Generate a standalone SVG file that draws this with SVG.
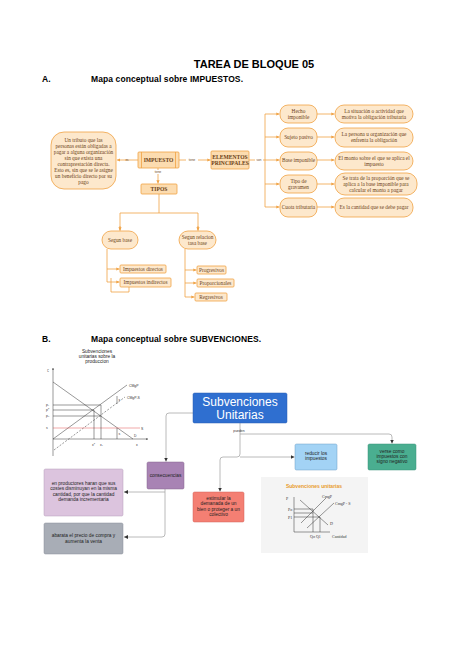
<svg xmlns="http://www.w3.org/2000/svg" width="474" height="670" viewBox="0 0 474 670">
<defs>
<style>
.h{font-family:"Liberation Sans",Arial,sans-serif;font-weight:bold;fill:#000}
.on{fill:#fde8cc;stroke:#f0a244;stroke-width:0.8}
.ob{fill:#fcdcb0;stroke:#f0a244;stroke-width:0.8}
.t{font-family:"Liberation Serif","DejaVu Serif",serif;font-size:5.3px;fill:#6b3f17;text-anchor:middle}
.tb{font-family:"Liberation Serif","DejaVu Serif",serif;font-size:5.6px;font-weight:bold;fill:#6b3f17;text-anchor:middle}
.lb{font-family:"Liberation Sans",Arial,sans-serif;font-size:3px;fill:#6b3f17;text-anchor:middle}
.co{fill:none;stroke:#f0a244;stroke-width:0.8}
.cg{fill:none;stroke:#a8a8a8;stroke-width:0.8}
.g{fill:none;stroke:#333;stroke-width:0.5}
.s{font-family:"Liberation Sans",Arial,sans-serif;font-size:4.8px;fill:#222;text-anchor:middle}
.sm{font-family:"Liberation Sans",Arial,sans-serif;font-size:3.4px;fill:#333}
.gs{font-family:"Liberation Serif","DejaVu Serif",serif;font-size:4px;fill:#333}
</style>
<marker id="ao" viewBox="0 0 6 6" refX="6" refY="3" markerWidth="4" markerHeight="4" orient="auto"><path d="M0,0L6,3L0,6z" fill="#f0a244"/></marker>
<marker id="ag" viewBox="0 0 6 6" refX="6" refY="3" markerWidth="3.5" markerHeight="3.5" orient="auto"><path d="M0,0L6,3L0,6z" fill="#333"/></marker>
<marker id="ak" viewBox="0 0 6 6" refX="6" refY="3" markerWidth="5" markerHeight="5" orient="auto"><path d="M0,0L6,3L0,6z" fill="#333"/></marker>
</defs>
<rect width="474" height="670" fill="#fff"/>

<g id="headings">
<text class="h" x="254" y="68" font-size="11" text-anchor="middle">TAREA DE BLOQUE 05</text>
<text class="h" x="42" y="82" font-size="8.5">A.</text>
<text class="h" x="91" y="82" font-size="8.5" textLength="152">Mapa conceptual sobre IMPUESTOS.</text>
<text class="h" x="42" y="342" font-size="8.5">B.</text>
<text class="h" x="91" y="342" font-size="8.5" textLength="170">Mapa conceptual sobre SUBVENCIONES.</text>
</g>

<g id="connectors-a">
<line class="co" x1="138" y1="160" x2="117" y2="160" marker-end="url(#ao)"/>
<text class="lb" x="127" y="161">es</text>
<line class="co" x1="179" y1="160" x2="210.5" y2="160" marker-end="url(#ao)"/>
<rect x="186" y="158" width="12" height="4" fill="#fff"/>
<text class="lb" x="192" y="161">tiene</text>
<line class="co" x1="158" y1="168" x2="158" y2="183.5" marker-end="url(#ao)"/>
<rect x="152" y="170" width="12" height="4" fill="#fff"/>
<text class="lb" x="158" y="173">tiene</text>
<polyline class="co" points="249,160 265,160"/>
<rect x="255" y="158" width="8" height="4" fill="#fff"/>
<text class="lb" x="259" y="161">son</text>
<line class="co" x1="265" y1="114" x2="265" y2="207"/>
<line class="co" x1="265" y1="114" x2="279.5" y2="114" marker-end="url(#ao)"/>
<line class="co" x1="265" y1="137" x2="279.5" y2="137" marker-end="url(#ao)"/>
<line class="co" x1="265" y1="160" x2="279.5" y2="160" marker-end="url(#ao)"/>
<line class="co" x1="265" y1="184" x2="279.5" y2="184" marker-end="url(#ao)"/>
<line class="co" x1="265" y1="207" x2="279.5" y2="207" marker-end="url(#ao)"/>
<line class="co" x1="317" y1="114" x2="334.5" y2="114" marker-end="url(#ao)"/>
<line class="co" x1="317" y1="137" x2="334.5" y2="137" marker-end="url(#ao)"/>
<line class="co" x1="317" y1="160" x2="334.5" y2="160" marker-end="url(#ao)"/>
<line class="co" x1="317" y1="184" x2="334.5" y2="184" marker-end="url(#ao)"/>
<line class="co" x1="317" y1="207" x2="334.5" y2="207" marker-end="url(#ao)"/>
<polyline class="co" points="159,194 159,213"/>
<polyline class="co" points="120,230.5 120,213 198,213 198,230.5"/>
<path class="co" d="M120,226 L120,230.5" marker-end="url(#ao)"/>
<path class="co" d="M198,226 L198,230.5" marker-end="url(#ao)"/>
<polyline class="co" points="107,249 107,282"/>
<line class="co" x1="107" y1="269" x2="119.5" y2="269" marker-end="url(#ao)"/>
<line class="co" x1="107" y1="282" x2="119.5" y2="282" marker-end="url(#ao)"/>
<polyline class="co" points="111,278 111,292 129,292 129,287"/>
<polyline class="co" points="185,249 185,297"/>
<line class="co" x1="185" y1="270" x2="196.5" y2="270" marker-end="url(#ao)"/>
<line class="co" x1="185" y1="283" x2="196.5" y2="283" marker-end="url(#ao)"/>
<line class="co" x1="185" y1="297" x2="194.5" y2="297" marker-end="url(#ao)"/>
</g>

<g id="n-def">
<rect class="on" x="51" y="132" width="65" height="57" rx="13"/>
<text class="t"><tspan x="83.5" y="142">Un tributo que las</tspan><tspan x="83.5" y="148">personas están obligadas a</tspan><tspan x="83.5" y="154">pagar a alguna organización</tspan><tspan x="83.5" y="160">sin que exista una</tspan><tspan x="83.5" y="166">contraprestación directa.</tspan><tspan x="83.5" y="172">Esto es, sin que se le asigne</tspan><tspan x="83.5" y="178">un beneficio directo por su</tspan><tspan x="83.5" y="184">pago</tspan></text>
</g>
<g id="n-impuesto">
<rect class="ob" x="138" y="152" width="41" height="16" rx="1"/>
<line class="co" x1="141.5" y1="152" x2="141.5" y2="168"/>
<line class="co" x1="175.5" y1="152" x2="175.5" y2="168"/>
<text class="tb" x="158.5" y="162">IMPUESTO</text>
</g>
<g id="n-elementos">
<rect class="ob" x="211" y="151" width="38" height="18" rx="1"/>
<text class="tb" font-size="4.8"><tspan x="230" y="159">ELEMENTOS</tspan><tspan x="230" y="165">PRINCIPALES</tspan></text>
</g>
<g id="n-tipos">
<rect class="ob" x="141" y="184" width="36" height="10" rx="1"/>
<text class="tb" font-size="4.8" x="159" y="190.5">TIPOS</text>
</g>
<g id="n-hecho"><rect class="on" x="280" y="105" width="37" height="18" rx="8"/><text class="t"><tspan x="298.5" y="112.5">Hecho</tspan><tspan x="298.5" y="118.5">imponible</tspan></text></g>
<g id="n-sujeto"><rect class="on" x="280" y="128" width="37" height="19" rx="8"/><text class="t" x="298.5" y="139">Sujeto pasivo</text></g>
<g id="n-base"><rect class="on" x="280" y="152" width="37" height="18" rx="8"/><text class="t" x="298.5" y="162">Base imponible</text></g>
<g id="n-tipo"><rect class="on" x="280" y="175" width="37" height="18" rx="8"/><text class="t"><tspan x="298.5" y="182.5">Tipo de</tspan><tspan x="298.5" y="188.5">gravamen</tspan></text></g>
<g id="n-cuota"><rect class="on" x="280" y="198" width="37" height="19" rx="8"/><text class="t" x="298.5" y="209">Cuota tributaria</text></g>
<g id="n-d1"><rect class="on" x="335" y="105" width="78" height="18" rx="9"/><text class="t"><tspan x="374" y="112.5">La situación o actividad que</tspan><tspan x="374" y="118.5">motiva la obligación tributaria</tspan></text></g>
<g id="n-d2"><rect class="on" x="335" y="128" width="78" height="19" rx="9"/><text class="t"><tspan x="374" y="136">La persona u organización que</tspan><tspan x="374" y="142">enfrenta la obligación</tspan></text></g>
<g id="n-d3"><rect class="on" x="335" y="152" width="78" height="18" rx="9"/><text class="t"><tspan x="374" y="159.5">El monto sobre el que se aplica el</tspan><tspan x="374" y="165.5">impuesto</tspan></text></g>
<g id="n-d4"><rect class="on" x="335" y="173" width="82" height="22" rx="10"/><text class="t"><tspan x="376" y="179.5">Se trata de la proporción que se</tspan><tspan x="376" y="185.5">aplica a la base imponible para</tspan><tspan x="376" y="191.5">calcular el monto a pagar</tspan></text></g>
<g id="n-d5"><rect class="on" x="335" y="198" width="78" height="19" rx="9"/><text class="t" x="374" y="209">Es la cantidad que se debe pagar</text></g>
<g id="n-segunbase"><rect class="on" x="102" y="231" width="36" height="18" rx="9"/><text class="t" x="120" y="241.5">Segun base</text></g>
<g id="n-segunrel"><rect class="on" x="179" y="231" width="37" height="18" rx="9"/><text class="t"><tspan x="197.5" y="238.5">Segun relacion</tspan><tspan x="197.5" y="244.5">tasa base</tspan></text></g>
<g id="n-directos"><rect class="on" x="120" y="265" width="46" height="8" rx="1"/><text class="t" x="143" y="270.8">Impuestos directos</text></g>
<g id="n-indirectos"><rect class="on" x="120" y="278" width="51" height="9" rx="1"/><text class="t" x="145.5" y="284.3">Impuestos indirectos</text></g>
<g id="n-progresivos"><rect class="on" x="197" y="266" width="29" height="8" rx="1"/><text class="t" x="211.5" y="271.8">Progresivos</text></g>
<g id="n-proporcionales"><rect class="on" x="197" y="279" width="37" height="8" rx="1"/><text class="t" x="215.5" y="284.8">Proporcionales</text></g>
<g id="n-regresivos"><rect class="on" x="195" y="293" width="32" height="8" rx="1"/><text class="t" x="211" y="298.8">Regresivos</text></g>

<g id="graph-1">
<text class="s"><tspan x="97" y="353">Subvenciones</tspan><tspan x="97" y="358">unitarias  sobre la</tspan><tspan x="97" y="363">produccion</tspan></text>
<line class="g" x1="53" y1="456" x2="53" y2="368" marker-end="url(#ag)"/>
<line class="g" x1="53" y1="439" x2="148" y2="439" marker-end="url(#ag)"/>
<text class="sm" x="47" y="372">€</text>
<text class="sm" x="136" y="446">x</text>
<line class="g" x1="53" y1="382" x2="133" y2="439"/>
<text class="sm" x="134" y="437">D</text>
<line class="g" x1="53" y1="439" x2="127" y2="385"/>
<text class="sm" x="129" y="387">CMgP</text>
<line class="g" x1="54" y1="450" x2="125" y2="397" stroke-dasharray="2,1.5"/>
<text class="sm" x="127" y="399">CMgP-S</text>
<line x1="53" y1="428" x2="140" y2="428" stroke="#e05050" stroke-width="0.5"/>
<text class="sm" x="141" y="429.5" fill="#e05050">S</text>
<line class="g" x1="53" y1="405" x2="101" y2="405" stroke="#888"/>
<line class="g" x1="53" y1="410" x2="94" y2="410" stroke="#888"/>
<line class="g" x1="53" y1="416" x2="101" y2="416" stroke="#888"/>
<line class="g" x1="94" y1="410" x2="94" y2="439" stroke="#888"/>
<line class="g" x1="101" y1="405" x2="101" y2="439" stroke="#888"/>
<line class="g" x1="117" y1="396" x2="117" y2="404"/>
<line class="g" x1="117" y1="428" x2="117" y2="439"/>
<text class="sm" font-size="2.6" x="118.5" y="401">s</text>
<text class="sm" font-size="2.6" x="118.5" y="435">s</text>
<text class="sm" font-size="2.6" x="46" y="406">p₁</text>
<text class="sm" font-size="2.6" x="46" y="411">p*</text>
<text class="sm" font-size="2.6" x="46" y="417">p₂</text>
<text class="sm" font-size="2.6" x="46" y="429">s</text>
<text class="sm" font-size="2.6" x="92" y="446">x*</text>
<text class="sm" font-size="2.6" x="100" y="446">x₁</text>
</g>

<g id="connectors-b">
<path class="cg" d="M193,413 H169 Q166,413 166,416 V461.5" marker-end="url(#ak)"/>
<path class="cg" d="M240,423 V454 Q240,457 237,457 H223 Q220,457 220,460 V491.5" marker-end="url(#ak)"/>
<path class="cg" d="M240,457 H294.5" marker-end="url(#ak)"/>
<path class="cg" d="M240,434 H389 Q392,434 392,437 V443.5" marker-end="url(#ak)"/>
<path class="cg" d="M165,489 V534 Q165,537 162,537 H124" marker-end="url(#ak)"/>
<path class="cg" d="M165,492 H124" marker-end="url(#ak)"/>
<text class="sm" font-size="3.8" x="239" y="432" text-anchor="middle">pueden</text>
</g>

<g id="n-subvenciones">
<rect x="193" y="393" width="94" height="30" rx="1.5" fill="#2f6fd0" stroke="#2a5fb0" stroke-width="0.5"/>
<text font-family="'Liberation Sans',Arial,sans-serif" font-size="12" fill="#fff" text-anchor="middle"><tspan x="240" y="405.5">Subvenciones</tspan><tspan x="240" y="419">Unitarias</tspan></text>
</g>
<g id="n-reducir">
<rect x="295" y="444" width="42" height="26" rx="1.5" fill="#a3d3f5" stroke="#6c9cc6" stroke-width="0.5"/>
<text class="s" font-size="4.2" fill="#1c2e5a"><tspan x="316" y="455">reducir los</tspan><tspan x="316" y="460">impuestos</tspan></text>
</g>
<g id="n-verse">
<rect x="368" y="444" width="48" height="26" rx="1.5" fill="#4aae90" stroke="#3a9278" stroke-width="0.5"/>
<text class="s" font-size="4.2" fill="#fff"><tspan x="392" y="452.5">verse como</tspan><tspan x="392" y="457.5">impuestos con</tspan><tspan x="392" y="462.5">signo negativo</tspan></text>
</g>
<g id="n-estimular">
<rect x="193" y="492" width="51" height="30" rx="1.5" fill="#f47f73" stroke="#d0605a" stroke-width="0.5"/>
<text class="s" font-size="4.2" fill="#222"><tspan x="218.5" y="499.5">estimular la</tspan><tspan x="218.5" y="505">demanada  de un</tspan><tspan x="218.5" y="510.5">bien o proteger a un</tspan><tspan x="218.5" y="516">colectivo</tspan></text>
</g>
<g id="n-consecuencias">
<rect x="147" y="462" width="37" height="27" rx="1.5" fill="#a883b4" stroke="#86648f" stroke-width="0.5"/>
<text class="s" font-size="4.2" fill="#3a1f40" x="165.5" y="477">consecuencias</text>
</g>
<g id="n-productores">
<rect x="44" y="469" width="79" height="47" rx="1.5" fill="#dcc4de" stroke="#b49cb8" stroke-width="0.5"/>
<text class="s" font-size="4.2"><tspan x="83.5" y="484.5">en productores haran que sus</tspan><tspan x="83.5" y="490">costes disminuyan en la misma</tspan><tspan x="83.5" y="495.5">cantidad, por que la cantidad</tspan><tspan x="83.5" y="501">demanda incrementaria</tspan></text>
</g>
<g id="n-abarata">
<rect x="44" y="523" width="79" height="31" rx="1.5" fill="#a8adb6" stroke="#8a8f98" stroke-width="0.5"/>
<text class="s" font-size="4.2"><tspan x="83.5" y="537">abarata el precio de compra y</tspan><tspan x="83.5" y="542.5">aumenta la  venta</tspan></text>
</g>

<g id="graph-2">
<rect x="261" y="477" width="107" height="76" fill="#f4f4f4"/>
<text font-family="'Liberation Sans',Arial,sans-serif" font-size="5" font-weight="bold" fill="#e89a2c" x="314" y="488" text-anchor="middle">Subvenciones unitarias</text>
<text class="gs" x="286" y="500">P</text>
<line class="g" x1="294" y1="497" x2="294" y2="532" stroke-width="0.4"/>
<line class="g" x1="294" y1="532" x2="330" y2="532" stroke-width="0.4"/>
<line class="g" x1="301" y1="523" x2="326" y2="498" stroke-width="0.4"/>
<line class="g" x1="307" y1="528" x2="334" y2="503" stroke-width="0.4"/>
<line class="g" x1="300" y1="500" x2="328" y2="525" stroke-width="0.4"/>
<line class="g" x1="294" y1="509" x2="313" y2="509" stroke-width="0.4"/>
<line class="g" x1="294" y1="513" x2="313" y2="513" stroke-width="0.4"/>
<line class="g" x1="294" y1="517" x2="320" y2="517" stroke-width="0.4"/>
<line class="g" x1="313" y1="509" x2="313" y2="532" stroke-width="0.4"/>
<line class="g" x1="320" y1="517" x2="320" y2="532" stroke-width="0.4"/>
<text class="gs" x="288" y="510.5">Po</text>
<text class="gs" x="288" y="518.5">P1</text>
<text class="gs" x="322" y="498">CmgP</text>
<text class="gs" x="335" y="504.5">CmgP - S</text>
<text class="gs" x="330" y="524.5">D</text>
<text class="gs" x="310" y="537.5">Qo  Q1</text>
<text class="gs" x="332" y="537.5">Cantidad</text>
</g>
</svg>
